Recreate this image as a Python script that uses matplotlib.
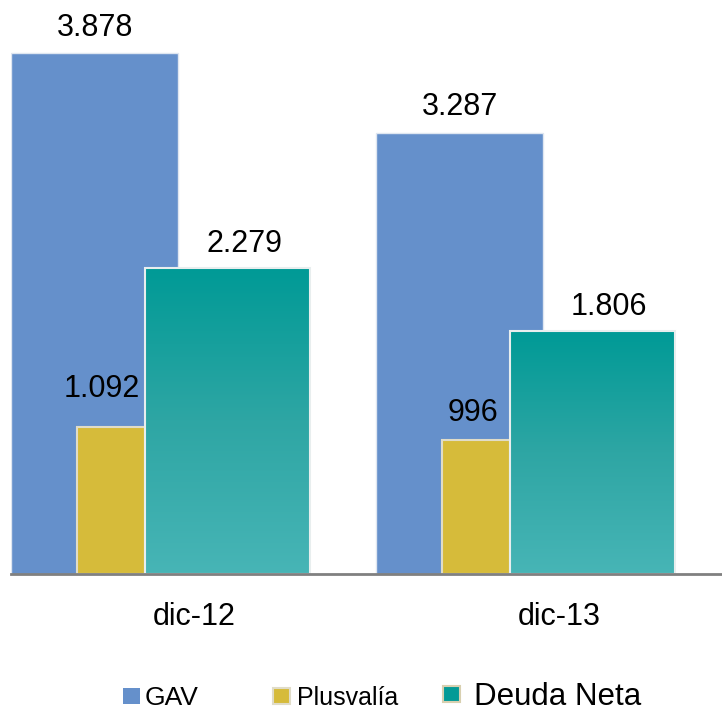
import matplotlib
matplotlib.use("Agg")
import matplotlib.pyplot as plt
import numpy as np
from matplotlib.colors import LinearSegmentedColormap
from matplotlib.patches import Rectangle

plt.rcParams["font.family"] = ["Liberation Sans", "DejaVu Sans"]

categories = ["dic-12", "dic-13"]
gav = [3878, 3287]
plusvalia = [1092, 996]
deuda_neta = [2279, 1806]
labels_gav = ["3.878", "3.287"]
labels_plus = ["1.092", "996"]
labels_deuda = ["2.279", "1.806"]

C_GAV = "#6590cb"
C_PLUS = "#d6bb3a"
teal = LinearSegmentedColormap.from_list("teal", ["#47b5b6", "#2ea6a4", "#009a96"])

fig = plt.figure(figsize=(7.22, 7.12), dpi=100)
ax = fig.add_axes([11 / 722, 138 / 712, 1 - 11 / 722, 1 - 138 / 712])
x = np.arange(len(categories))

# overlapping bars (offsets/widths in category units)
ax.bar(x - 0.253, gav, width=0.457, color=C_GAV, edgecolor="#dfe6f0", lw=1, zorder=2)
ax.bar(x - 0.208, plusvalia, width=0.186, color=C_PLUS, edgecolor="#e0dcc8", lw=1.5, zorder=3)
bars = ax.bar(x + 0.111, deuda_neta, width=0.452, color="none", edgecolor="#e8eeee", lw=1.5, zorder=5)
grad = np.linspace(0, 1, 256).reshape(-1, 1)
for b in bars:
    x0, w, h = b.get_x(), b.get_width(), b.get_height()
    im = ax.imshow(grad, cmap=teal, aspect="auto", origin="lower",
                   extent=(x0, x0 + w, 0, h), zorder=4)
    im.set_clip_path(b)

# value labels; the small-bar labels sit a little differently in the source
plus_off = [(-7, 16.5), (-2, 9)]
for i in x:
    ax.annotate(labels_gav[i], (i - 0.253, gav[i]), textcoords="offset points",
                xytext=(0, 7.5), ha="center", va="bottom", fontsize=22)
    ax.annotate(labels_plus[i], (i - 0.208, plusvalia[i]), textcoords="offset points",
                xytext=plus_off[i], ha="center", va="bottom", fontsize=22)
    ax.annotate(labels_deuda[i], (i + 0.111, deuda_neta[i]), textcoords="offset points",
                xytext=(12, 6.5), ha="center", va="bottom", fontsize=22)

ax.set_xlim((11 - 187) / 365, (722 - 187) / 365)
ax.set_ylim(0, 574 / 0.1343)
ax.set_xticks(x + 0.02)
ax.set_xticklabels(categories, fontsize=22)
ax.tick_params(axis="x", length=0, pad=20)
ax.set_yticks([])
for s in ("top", "right", "left"):
    ax.spines[s].set_visible(False)
ax.spines["bottom"].set_color("#808080")
ax.spines["bottom"].set_linewidth(2)
ax.spines["bottom"].set_zorder(6)


# legend, drawn by hand to keep the differing text sizes
def legend_item(px, tx, color, text, size, edge="none", top=688):
    fig.patches.append(Rectangle((px / 722, (712 - top - 16) / 712), 17 / 722, 16 / 712,
                                 transform=fig.transFigure, fc=color, ec=edge, lw=1.5))
    fig.text(tx / 722, (712 - 705) / 712, text, fontsize=size, va="baseline", ha="left")


legend_item(123, 145, C_GAV, "GAV", 19)
legend_item(273, 297, C_PLUS, "Plusvalía", 18, edge="#e0dcc8")
legend_item(443, 474, "#049a96", "Deuda Neta", 22.5, edge="#d8d0b0", top=686)

fig.savefig("out.png", dpi=100)
